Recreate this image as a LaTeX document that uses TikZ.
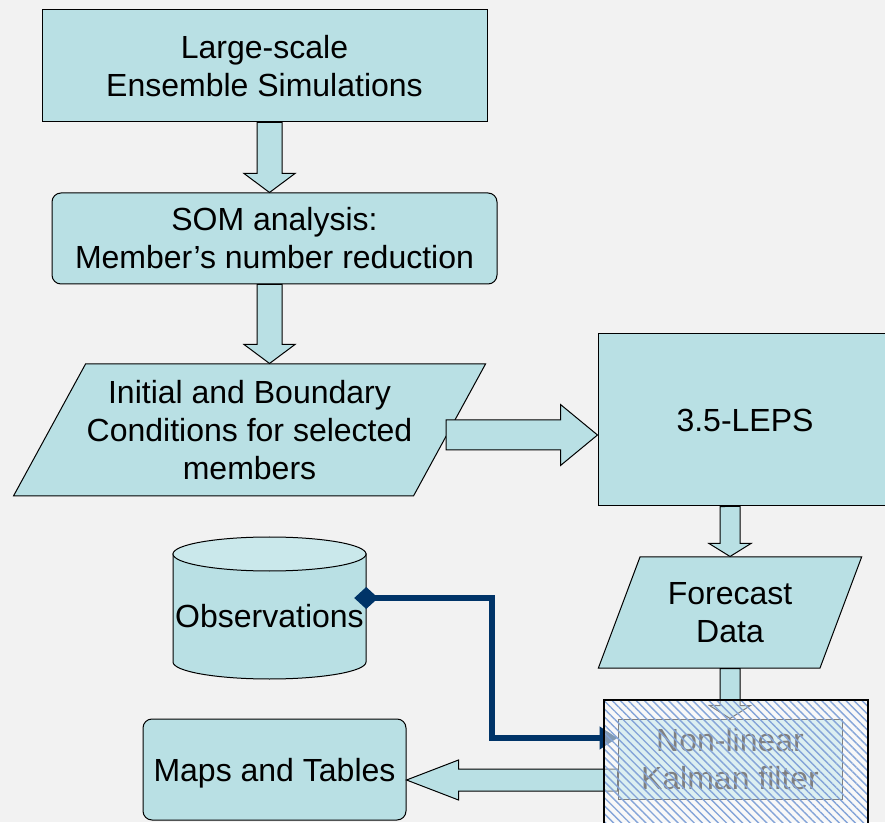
\documentclass[tikz,border=0pt]{standalone}
\usepackage{fontspec}
\setmainfont{Liberation Sans}
\usetikzlibrary{positioning}
\usetikzlibrary{calc}
\usetikzlibrary{shapes.geometric}
\usetikzlibrary{arrows.meta}
\usetikzlibrary{patterns.meta}
\definecolor{boxfill}{RGB}{185,224,228}
\definecolor{cyltop}{RGB}{202,232,235}
\definecolor{bggray}{RGB}{242,242,242}
\definecolor{navy}{RGB}{0,52,104}
\definecolor{hatch}{RGB}{132,164,216}

% fat arrow from #1 to #2: shaft half width #3, head half width #4, head length #5
\newcommand{\fatarrow}[5]{%
  \path[draw=black, line width=1pt, fill=boxfill] let \p1=#1, \p2=#2,
    \n1={atan2(\y2-\y1,\x2-\x1)}, \n2={veclen(\x2-\x1,\y2-\y1)} in
    [shift={(\p1)}, rotate=\n1]
    (0,#3) -- ({\n2-#5},#3) -- ({\n2-#5},#4) -- (\n2,0)
    -- ({\n2-#5},-#4) -- ({\n2-#5},-#3) -- (0,-#3) -- cycle;}

\begin{document}
\begin{tikzpicture}[x=1pt, y=1pt,
			box/.style={rectangle, draw, line width=1pt, fill=boxfill, inner sep=0pt, align=center, font=\fontsize{32}{38}\selectfont},
			rbox/.style={box, rounded corners=9pt},
			para/.style={box, trapezium, trapezium stretches=true},
			obsline/.style={draw=navy, line width=6.5pt, {Diamond[length=24pt,width=22pt]}-{Triangle[length=18pt,width=22pt]}},
			hatchbox/.style={rectangle, draw, line width=2pt, preaction={fill=white, fill opacity=0.5}, pattern={Lines[angle=-45, distance=5.7pt, line width=1.4pt]}, pattern color=hatch}
		]
			\useasboundingbox (0,0) rectangle (885,822);
			\fill[bggray] (0,0) rectangle (885,822);

			% Boxes
			\node[box, minimum width=445pt, minimum height=112pt] (ensemble) at (264.5,756) {Large-scale\\Ensemble Simulations};
			\node[rbox, minimum width=445pt, minimum height=91pt] (som) at (274.5,583.5) {SOM analysis:\\Member’s number reduction};
			\node[para, trapezium left angle=54.3, trapezium right angle=125.7, minimum width=475pt, minimum height=132pt] (ibc) at (249.5,392) {Initial and Boundary\\Conditions for selected\\members};
			\node[box, minimum width=294pt, minimum height=172pt] (leps) at (745,402) {3.5-LEPS};
			\node[para, trapezium left angle=64.5, trapezium right angle=115.5, minimum width=264pt, minimum height=111pt] (forecast) at (730,209.5) {Forecast\\Data};
			\node[rbox, minimum width=263pt, minimum height=101pt, text depth=0pt] (maps) at (274.5,52.5) {Maps and Tables};
			\node[box, minimum width=224pt, minimum height=80pt] (kalman) at (730,63) {Non-linear\\Kalman filter};

			% Observations store
			\path[draw, line width=1pt, fill=boxfill] (173,268) -- (173,160) arc[start angle=180, end angle=360, x radius=96.5, y radius=17] -- (366,268) -- cycle;
			\path[draw, line width=1pt, fill=cyltop] (269.5,268) ellipse[x radius=96.5, y radius=17];
			\node[font=\fontsize{32}{38}\selectfont, minimum width=193pt, inner sep=0pt] (obs) at (269.5,206) {Observations};

			% Arrows
			\fatarrow{([xshift=5]ensemble.south)}{([xshift=-5]som.north)}{12.5}{25.5}{19}
			\fatarrow{([xshift=-5]som.south)}{([xshift=20]ibc.north)}{12.5}{25.5}{19}
			\fatarrow{([shift={(196.5,-5)}]ibc.center)}{([yshift=-15]leps.west)}{15}{30.5}{37}
			\fatarrow{([xshift=-15]leps.south)}{(forecast.north)}{10}{21}{13}
			\fatarrow{(forecast.south)}{(kalman.north)}{10}{20.5}{13}
			\fatarrow{([yshift=-21]kalman.west)}{([yshift=-10.5]maps.east)}{11}{20}{52}
			\coordinate (elbow) at (492,84);
			\draw[obsline] ([shift={(-12,18)}]obs.east) -| (elbow) -- ([yshift=21]kalman.west);

			% Filter block
			\node[hatchbox, minimum width=264pt, minimum height=152pt] (filter) at (736,46) {};
		\end{tikzpicture}
\end{document}
